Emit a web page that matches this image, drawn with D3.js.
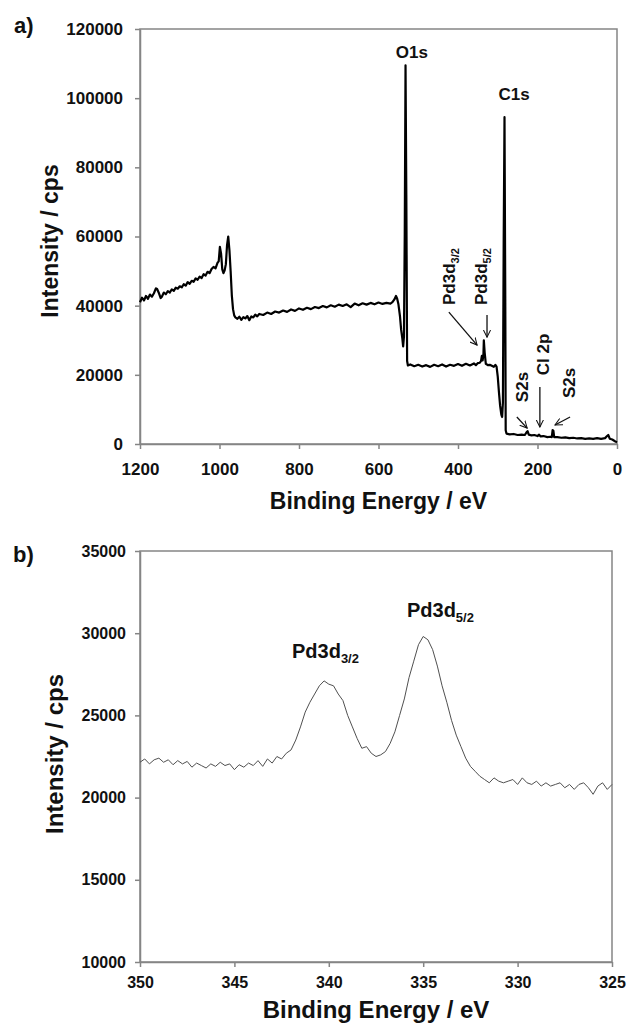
<!DOCTYPE html>
<html>
<head>
<meta charset="utf-8">
<script src="https://cdn.jsdelivr.net/npm/d3@7"></script>
<style>
  body { margin: 0; background: #fff; }
  svg text { font-family: "Liberation Sans", Arial, sans-serif; font-weight: bold; fill: #111; }
</style>
</head>
<body>
<svg id="chart" width="628" height="1025"></svg>
<script>
// survey spectrum: [binding energy eV, intensity cps]
const surveyData = [
  [1200, 41000], [1195, 42300], [1190, 41500], [1185, 42800], [1180, 42000], [1175, 43200],
  [1170, 42600], [1165, 43600], [1160, 45000], [1157, 44800], [1152, 43500], [1148, 42200],
  [1145, 42600], [1140, 43800], [1135, 43300], [1130, 44200], [1125, 43800], [1120, 44700],
  [1115, 44300], [1110, 45200], [1105, 44900], [1100, 45600], [1095, 45300], [1090, 46200],
  [1085, 45800], [1080, 46800], [1075, 46300], [1070, 47200], [1065, 46900], [1060, 47900],
  [1055, 47500], [1050, 48400], [1045, 48000], [1040, 49100], [1035, 48700], [1030, 49800],
  [1025, 49400], [1020, 50600], [1015, 51200], [1010, 50800], [1005, 52400], [1002, 52800],
  [999, 57000], [996, 55000], [993, 50500], [990, 49400], [987, 50200], [984, 52000],
  [981, 57500], [978, 60000], [975, 56000], [972, 50000], [969, 43000], [966, 39000],
  [963, 37200], [960, 36600], [955, 36200], [950, 36800], [945, 35900], [940, 36700],
  [935, 36300], [930, 37000], [925, 35800], [920, 36900], [915, 36600], [910, 37400],
  [905, 36900], [900, 37600], [890, 37300], [880, 38000], [870, 37600], [860, 38300],
  [850, 38000], [840, 38600], [830, 38200], [820, 38900], [810, 38500], [800, 39200],
  [790, 38800], [780, 39400], [770, 39000], [760, 39600], [750, 39300], [740, 39900],
  [730, 39500], [720, 40100], [710, 39700], [700, 40300], [690, 39900], [680, 40400],
  [670, 39600], [660, 40600], [650, 40100], [640, 40700], [630, 40300], [620, 40800],
  [610, 40400], [600, 40900], [590, 40500], [580, 40800], [570, 40600], [565, 41000],
  [560, 41800], [556, 42800], [553, 42000], [550, 40500], [546, 37000], [543, 33000],
  [540, 30500], [538, 28200], [536, 31000], [534, 60000], [532, 109500], [530, 72000],
  [528, 24000], [526, 22700], [520, 23000], [510, 22500], [500, 22900], [490, 22400],
  [480, 22800], [470, 22300], [460, 22900], [450, 22500], [440, 23000], [430, 22400],
  [420, 22900], [410, 22600], [400, 23100], [390, 22600], [380, 23200], [370, 22700],
  [360, 23300], [355, 22800], [350, 23400], [345, 23500], [342, 24000], [340, 25500],
  [338, 24200], [336, 26000], [335, 30000], [333, 26500], [330, 23200], [325, 22800],
  [320, 22900], [315, 22600], [310, 22300], [306, 22900], [303, 22400], [300, 19500],
  [297, 15000], [294, 11000], [291, 8500], [289, 7800], [287, 12000], [285, 60000],
  [283, 94500], [281, 40000], [280, 4000], [278, 3000], [270, 2800], [260, 2900],
  [250, 2600], [240, 2700], [232, 2600], [228, 3300], [225, 3700], [222, 2700],
  [215, 2500], [208, 2600], [200, 2300], [196, 2700], [192, 2200], [185, 2300],
  [175, 2000], [168, 2100], [164, 2000], [162, 4000], [160, 3800], [158, 2000],
  [150, 2000], [140, 1800], [130, 1900], [120, 1700], [110, 1800], [100, 1600],
  [90, 1700], [80, 1500], [70, 1600], [60, 1500], [50, 1700], [40, 1500],
  [30, 1700], [25, 2300], [22, 2600], [18, 1500], [12, 1300], [8, 1000], [4, 700], [0, 500]
];
const surveyTicksX = [1200, 1000, 800, 600, 400, 200, 0];
const surveyTicksY = [0, 20000, 40000, 60000, 80000, 100000, 120000];

// Pd 3d high resolution region
const detailData = [
  [350.00, 22150], [349.75, 22350], [349.50, 22050], [349.25, 22300], [349.00, 22400],
  [348.75, 22150], [348.50, 22300], [348.25, 22000], [348.00, 22250], [347.75, 22050],
  [347.50, 22200], [347.25, 21850], [347.00, 22100], [346.75, 21950], [346.50, 21800],
  [346.25, 22050], [346.00, 21900], [345.75, 22150], [345.50, 21950], [345.25, 22050],
  [345.00, 21700], [344.75, 22000], [344.50, 21850], [344.25, 22100], [344.00, 21950],
  [343.75, 22250], [343.50, 21900], [343.25, 22350], [343.00, 22100], [342.75, 22500],
  [342.50, 22350], [342.25, 22700], [342.00, 22900], [341.75, 23500], [341.50, 24300],
  [341.25, 25200], [341.00, 25800], [340.75, 26300], [340.50, 26800], [340.25, 27100],
  [340.00, 26900], [339.75, 26800], [339.50, 26300], [339.25, 25900], [339.00, 25000],
  [338.75, 24300], [338.50, 23600], [338.25, 23000], [338.00, 23100], [337.75, 22700],
  [337.50, 22500], [337.25, 22600], [337.00, 22800], [336.75, 23300], [336.50, 24000],
  [336.25, 25000], [336.00, 26000], [335.75, 27300], [335.50, 28300], [335.25, 29300],
  [335.00, 29800], [334.75, 29600], [334.50, 29000], [334.25, 28000], [334.00, 26800],
  [333.75, 25800], [333.50, 24700], [333.25, 23800], [333.00, 23100], [332.75, 22400],
  [332.50, 21900], [332.25, 21600], [332.00, 21300], [331.75, 21100], [331.50, 20900],
  [331.25, 21200], [331.00, 21000], [330.75, 20900], [330.50, 21000], [330.25, 21100],
  [330.00, 20800], [329.75, 21200], [329.50, 20900], [329.25, 20800], [329.00, 21000],
  [328.75, 20700], [328.50, 20900], [328.25, 20700], [328.00, 20800], [327.75, 20900],
  [327.50, 20600], [327.25, 20800], [327.00, 20500], [326.75, 20800], [326.50, 20900],
  [326.25, 20600], [326.00, 20200], [325.75, 20700], [325.50, 20900], [325.25, 20500],
  [325.00, 20800]
];
const detailTicksX = [350, 345, 340, 335, 330, 325];
const detailTicksY = [10000, 15000, 20000, 25000, 30000, 35000];

// peak labels, anchored in data units
const surveyLabels = [
  { text: 'O1s', sub: '', at: [516, 111500], rot: false },
  { text: 'C1s', sub: '', at: [259, 99400], rot: false },
  { text: 'Pd3d', sub: '3/2', at: [408, 40200], rot: true },
  { text: 'Pd3d', sub: '5/2', at: [327, 40200], rot: true },
  { text: 'Cl 2p', sub: '', at: [171, 19900], rot: true },
  { text: 'S2s', sub: '', at: [224, 12100], rot: true },
  { text: 'S2s', sub: '', at: [106, 13300], rot: true }
];
const surveyArrows = [
  [[423, 38150], [352, 28600]],
  [[327, 37300], [327, 30900]],
  [[194, 16500], [194, 4900]],
  [[252, 7800], [226, 4600]],
  [[118, 7800], [156, 5500]]
];
const detailLabels = [
  { text: 'Pd3d', sub: '3/2', at: [341.95, 28490] },
  { text: 'Pd3d', sub: '5/2', at: [335.86, 30990] }
];

const svg = d3.select('#chart');
const axisGrey = '#858585';

svg.append('defs').append('marker')
  .attr('id', 'arrow')
  .attr('viewBox', '0 0 10 10')
  .attr('refX', 9).attr('refY', 5)
  .attr('markerWidth', 8).attr('markerHeight', 8)
  .attr('markerUnits', 'userSpaceOnUse')
  .attr('orient', 'auto')
  .append('path')
  .attr('d', 'M0,0.5 L9,5 L0,9.5')
  .attr('fill', 'none').attr('stroke', '#111').attr('stroke-width', 1.3);

function addText(g, t, size, subSize, subDy) {
  const el = g.append('text').attr('font-size', size);
  el.append('tspan').text(t.text);
  if (t.sub) el.append('tspan').attr('font-size', subSize).attr('dy', subDy).text(t.sub);
  return el;
}

function drawPanel(p) {
  const x = d3.scaleLinear().domain(p.xDomain).range([p.left, p.right]);
  const y = d3.scaleLinear().domain(p.yDomain).range([p.bottom, p.top]);
  const g = svg.append('g');

  g.append('rect')
    .attr('x', p.left).attr('y', p.top)
    .attr('width', p.right - p.left).attr('height', p.bottom - p.top)
    .attr('fill', 'none').attr('stroke', axisGrey).attr('stroke-width', 1.5);

  const xAxis = g.append('g')
    .attr('transform', `translate(0,${p.bottom})`)
    .call(d3.axisBottom(x).tickValues(p.xTicks).tickFormat(d3.format('d'))
      .tickSize(5).tickSizeOuter(0).tickPadding(p.xPad));
  const yAxis = g.append('g')
    .attr('transform', `translate(${p.left},0)`)
    .call(d3.axisLeft(y).tickValues(p.yTicks).tickFormat(d3.format('d'))
      .tickSize(5).tickSizeOuter(0).tickPadding(p.yPad));

  [xAxis, yAxis].forEach(a => {
    a.select('.domain').attr('stroke', axisGrey).attr('stroke-width', 1.5);
    a.selectAll('.tick line').attr('stroke', axisGrey).attr('stroke-width', 1.5);
    a.selectAll('.tick text').attr('fill', '#111').attr('font-size', p.tickFont)
      .attr('font-family', '"Liberation Sans", Arial, sans-serif').attr('font-weight', 'bold');
  });

  g.append('path')
    .datum(p.data)
    .attr('fill', 'none')
    .attr('stroke', p.lineColor)
    .attr('stroke-width', p.lineWidth)
    .attr('stroke-linejoin', 'round')
    .attr('d', d3.line().x(d => x(d[0])).y(d => y(d[1])));

  g.append('text')
    .attr('x', (p.left + p.right) / 2).attr('y', p.xTitleY)
    .attr('text-anchor', 'middle').attr('font-size', p.titleFont)
    .text('Binding Energy / eV');

  g.append('text')
    .attr('transform', `translate(${p.yTitleX},${p.yTitleMid}) rotate(-90)`)
    .attr('text-anchor', 'middle').attr('font-size', p.titleFont)
    .text('Intensity / cps');

  g.append('text')
    .attr('x', p.tagX).attr('y', p.tagY).attr('font-size', 22)
    .text(p.tag);

  return { g, x, y };
}

// panel a) survey
const a = drawPanel({
  left: 140, right: 617, top: 29, bottom: 444,
  xDomain: [1200, 0], yDomain: [0, 120000],
  xTicks: surveyTicksX, yTicks: surveyTicksY,
  xPad: 14, yPad: 12, tickFont: 17,
  data: surveyData, lineColor: '#000', lineWidth: 2.2,
  titleFont: 23, xTitleY: 509, yTitleX: 58, yTitleMid: 241,
  tag: 'a)', tagX: 14, tagY: 33
});

surveyLabels.forEach(t => {
  const el = addText(a.g, t, 17, 11, 4);
  const px = a.x(t.at[0]), py = a.y(t.at[1]);
  if (t.rot) {
    el.attr('transform', `translate(${px},${py}) rotate(-90)`);
  } else {
    el.attr('x', px).attr('y', py).attr('text-anchor', 'middle');
  }
});

a.g.selectAll('line.arrow')
  .data(surveyArrows)
  .join('line')
  .attr('class', 'arrow')
  .attr('x1', d => a.x(d[0][0])).attr('y1', d => a.y(d[0][1]))
  .attr('x2', d => a.x(d[1][0])).attr('y2', d => a.y(d[1][1]))
  .attr('stroke', '#111').attr('stroke-width', 1.3)
  .attr('marker-end', 'url(#arrow)');

// panel b) Pd 3d detail
const b = drawPanel({
  left: 140, right: 612, top: 551, bottom: 962,
  xDomain: [350, 325], yDomain: [10000, 35000],
  xTicks: detailTicksX, yTicks: detailTicksY,
  xPad: 10, yPad: 9, tickFont: 16,
  data: detailData, lineColor: '#505050', lineWidth: 1,
  titleFont: 24, xTitleY: 1018, yTitleX: 63, yTitleMid: 754,
  tag: 'b)', tagX: 13, tagY: 562
});

detailLabels.forEach(t => {
  addText(b.g, t, 20, 13, 5)
    .attr('x', b.x(t.at[0])).attr('y', b.y(t.at[1]));
});
</script>
</body>
</html>
